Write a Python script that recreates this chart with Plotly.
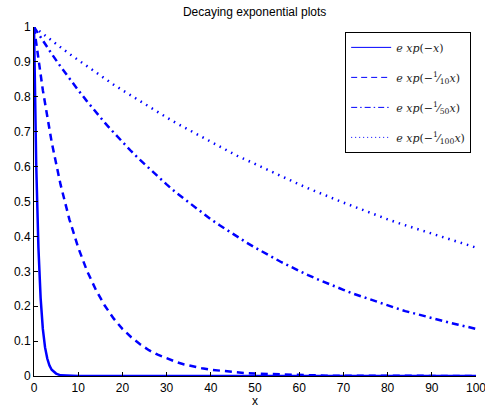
import plotly.graph_objects as go

# Sample points for the fast-decaying curve
x_fast = [0, 0.5, 1, 1.5, 2, 2.5, 3, 3.5, 4, 5, 6, 7, 8, 10, 100]
y_rate1 = [1.000, 0.607, 0.368, 0.223, 0.135, 0.082, 0.050, 0.030, 0.018,
           0.007, 0.002, 0.001, 0.000, 0.000, 0.000]

# Shared sample points for the slower curves
x_vals = list(range(0, 101, 2))
y_rate10 = [1.000, 0.819, 0.670, 0.549, 0.449, 0.368, 0.301, 0.247, 0.202, 0.165,
            0.135, 0.111, 0.091, 0.074, 0.061, 0.050, 0.041, 0.033, 0.027, 0.022,
            0.018, 0.015, 0.012, 0.010, 0.008, 0.007, 0.006, 0.005, 0.004, 0.003,
            0.002, 0.002, 0.002, 0.001, 0.001, 0.001, 0.001, 0.001, 0.000, 0.000,
            0.000, 0.000, 0.000, 0.000, 0.000, 0.000, 0.000, 0.000, 0.000, 0.000,
            0.000]
y_rate50 = [1.000, 0.961, 0.923, 0.887, 0.852, 0.819, 0.787, 0.756, 0.726, 0.698,
            0.670, 0.644, 0.619, 0.595, 0.571, 0.549, 0.527, 0.507, 0.487, 0.468,
            0.449, 0.432, 0.415, 0.399, 0.383, 0.368, 0.353, 0.340, 0.326, 0.313,
            0.301, 0.289, 0.278, 0.267, 0.257, 0.247, 0.237, 0.228, 0.219, 0.210,
            0.202, 0.194, 0.186, 0.179, 0.172, 0.165, 0.159, 0.153, 0.147, 0.141,
            0.135]
y_rate100 = [1.000, 0.980, 0.961, 0.942, 0.923, 0.905, 0.887, 0.869, 0.852, 0.835,
             0.819, 0.803, 0.787, 0.771, 0.756, 0.741, 0.726, 0.712, 0.698, 0.684,
             0.670, 0.657, 0.644, 0.631, 0.619, 0.607, 0.595, 0.583, 0.571, 0.560,
             0.549, 0.538, 0.527, 0.517, 0.507, 0.497, 0.487, 0.477, 0.468, 0.458,
             0.449, 0.440, 0.432, 0.423, 0.415, 0.407, 0.399, 0.391, 0.383, 0.375,
             0.368]

legend_labels = [
    "<i>e xp</i>(−<i>x</i>)",
    "<i>e xp</i>(−<sup>1</sup>⁄<sub>10</sub><i>x</i>)",
    "<i>e xp</i>(−<sup>1</sup>⁄<sub>50</sub><i>x</i>)",
    "<i>e xp</i>(−<sup>1</sup>⁄<sub>100</sub><i>x</i>)",
]
x_ticks = list(range(0, 101, 10))
y_ticks = [0, 0.1, 0.2, 0.3, 0.4, 0.5, 0.6, 0.7, 0.8, 0.9, 1]
y_tick_text = ["0", "0.1", "0.2", "0.3", "0.4", "0.5", "0.6", "0.7", "0.8", "0.9", "1"]

BLUE = "#0000ff"
dashes = ["solid", "7px,5px", "7px,4px,2px,4px", "1.5px,5px"]
series = [(x_fast, y_rate1), (x_vals, y_rate10), (x_vals, y_rate50), (x_vals, y_rate100)]

fig = go.Figure()
for (xs, ys), dash in zip(series, dashes):
    fig.add_trace(go.Scatter(x=xs, y=ys, mode="lines", showlegend=False,
                             line=dict(color=BLUE, width=2.5, dash=dash)))

# Thin-line legend entries, one group each so they can be spaced apart
legend_dashes = ["solid", "6px,4px", "6px,3px,1.5px,3px", "1px,3px"]
for i, (label, dash) in enumerate(zip(legend_labels, legend_dashes)):
    fig.add_trace(go.Scatter(x=[None], y=[None], mode="lines", name=label,
                             legendgroup=f"g{i}",
                             line=dict(color=BLUE, width=1, dash=dash)))

fig.update_layout(
    width=485, height=408,
    margin=dict(l=34, r=9, t=27, b=32),
    paper_bgcolor="white", plot_bgcolor="white",
    font=dict(family="Liberation Sans, Arial, sans-serif", size=12, color="black"),
    title=dict(text="Decaying exponential plots", x=0.525, xanchor="center",
               y=0.972, yanchor="middle", font=dict(size=12)),
    showlegend=True,
    legend=dict(x=0.704, y=0.986, xanchor="left", yanchor="top",
                bgcolor="white", bordercolor="black", borderwidth=1,
                font=dict(family="DejaVu Serif, Liberation Serif, serif", size=11,
                          color="#222222"),
                itemwidth=40, tracegroupgap=11),
)
fig.update_xaxes(range=[0, 100], tickvals=x_ticks, showgrid=False, zeroline=False,
                 showline=True, linecolor="black", linewidth=1,
                 ticks="inside", ticklen=4, tickcolor="black",
                 ticklabeloverflow="allow", ticklabelstandoff=1, automargin=False,
                 title=dict(text="x", standoff=6, font=dict(size=12)))
fig.update_yaxes(range=[0, 1], tickvals=y_ticks, ticktext=y_tick_text,
                 showgrid=False, zeroline=False, automargin=False,
                 showline=True, linecolor="black", linewidth=1,
                 ticks="inside", ticklen=4, tickcolor="black")

fig.write_html("out.html")
